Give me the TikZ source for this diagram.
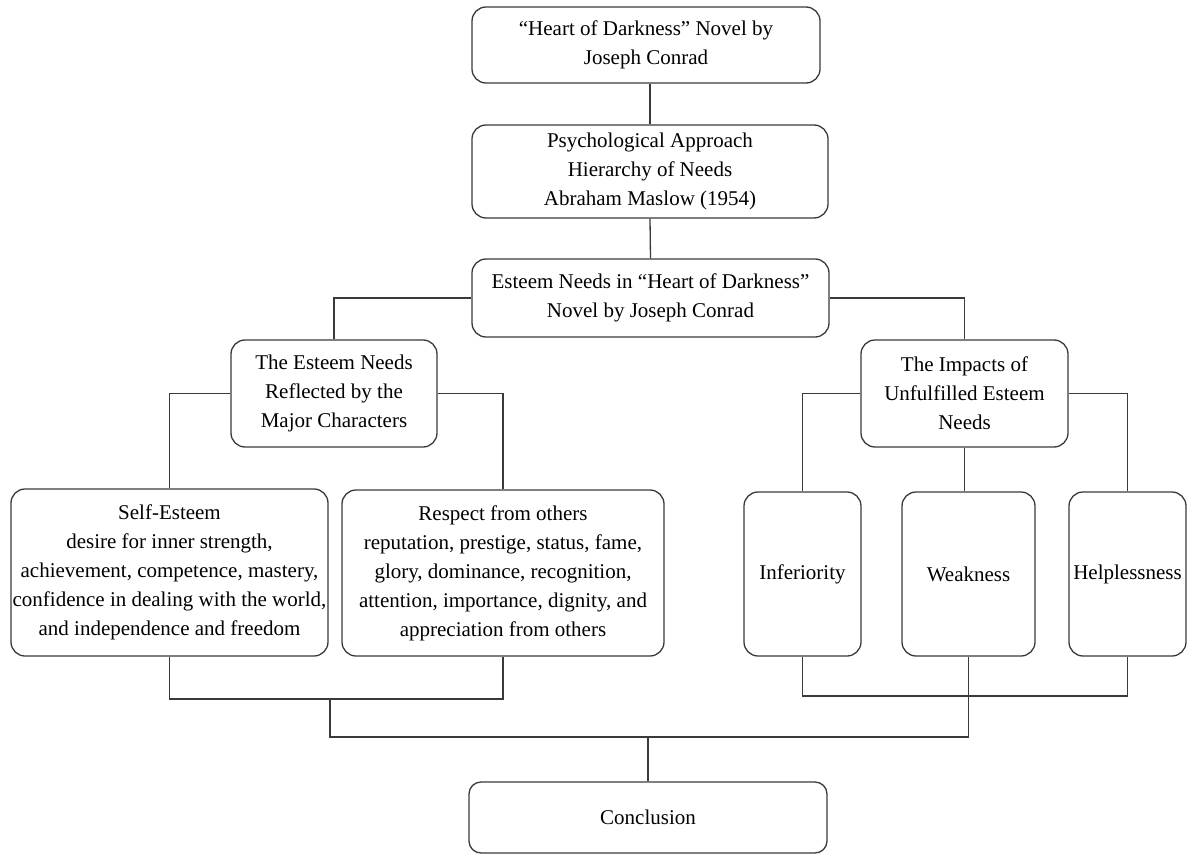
\documentclass[tikz,border=0pt]{standalone}
\usepackage{fontspec}
\setmainfont{Liberation Serif}
\usetikzlibrary{positioning}
\definecolor{rahmen}{HTML}{3A3A3A}
\tikzset{
  kasten/.style={draw=rahmen, line width=1.3pt, rounded corners=14pt, align=center,
    inner sep=0pt, fill=white},
  linie/.style={draw=rahmen, line width=1.3pt}
}
\begin{document}
\begin{tikzpicture}[x=1pt, y=-1pt, font=\fontsize{21}{29}\selectfont]
  % Rahmen
  \useasboundingbox (0,0) rectangle (1187,859);
  % Ebene 1-3
  \node[kasten, minimum width=348pt, minimum height=76pt] (novel) at (646,45)
    {“Heart of Darkness” Novel by\\Joseph Conrad};
  \node[kasten, minimum width=356pt, minimum height=93pt] (approach) at (650,171.5)
    {Psychological Approach\\Hierarchy of Needs\\Abraham Maslow (1954)};
  \node[kasten, minimum width=357pt, minimum height=78pt] (esteem) at (650.5,298)
    {Esteem Needs in “Heart of Darkness”\\Novel by Joseph Conrad};
  % Ebene 4
  \node[kasten, minimum width=206pt, minimum height=107pt] (reflected) at (334,393.5)
    {The Esteem Needs\\Reflected by the\\Major Characters};
  \node[kasten, minimum width=207pt, minimum height=107pt] (impacts) at (964.5,393.5)
    {The Impacts of\\Unfulfilled Esteem\\Needs};
  % Ebene 5
  \node[kasten, minimum width=317pt, minimum height=167pt] (selfesteem) at (169.5,572.5)
    {Self-Esteem\\desire for inner strength,\\achievement, competence, mastery,\\confidence in dealing with the world,\\and independence and freedom};
  \node[kasten, minimum width=322pt, minimum height=166pt] (respect) at (503,573)
    {Respect from others\\reputation, prestige, status, fame,\\glory, dominance, recognition,\\attention, importance, dignity, and\\appreciation from others};
  \node[kasten, minimum width=117pt, minimum height=164pt] (inferiority) at (802.5,574) {Inferiority};
  \node[kasten, minimum width=133pt, minimum height=164pt] (weakness) at (968.5,574) {Weakness};
  \node[kasten, minimum width=117pt, minimum height=164pt] (helplessness) at (1127.5,574) {Helplessness};
  % Ebene 6
  \node[kasten, rounded corners=12pt, minimum width=358pt, minimum height=71pt] (conclusion) at (648,817.5) {Conclusion};
  % Verbindungen oben
  \draw[linie] (approach.north) -- (approach.north |- novel.south);
  \draw[linie] (approach.south) -- (esteem.north);
  \draw[linie] (esteem.west) -| (reflected.north);
  \draw[linie] (esteem.east) -| (impacts.north);
  \draw[linie] (reflected.west) -| (selfesteem.north);
  \draw[linie] (reflected.east) -| (respect.north);
  \draw[linie] (impacts.west) -| (inferiority.north);
  \draw[linie] (impacts.south) -- (impacts.south |- weakness.north);
  \draw[linie] (impacts.east) -| (helplessness.north);
  % Verbindungen unten
  \coordinate (lj) at (330,699);
  \coordinate (rj) at (968.5,696);
  \coordinate (bj) at (648,737);
  \draw[linie] (selfesteem.south) |- (lj) -| (respect.south);
  \draw[linie] (inferiority.south) |- (rj) -| (helplessness.south);
  \draw[linie] (lj) |- (bj) -| (weakness.south);
  \draw[linie] (bj) -- (conclusion.north);
\end{tikzpicture}
\end{document}
